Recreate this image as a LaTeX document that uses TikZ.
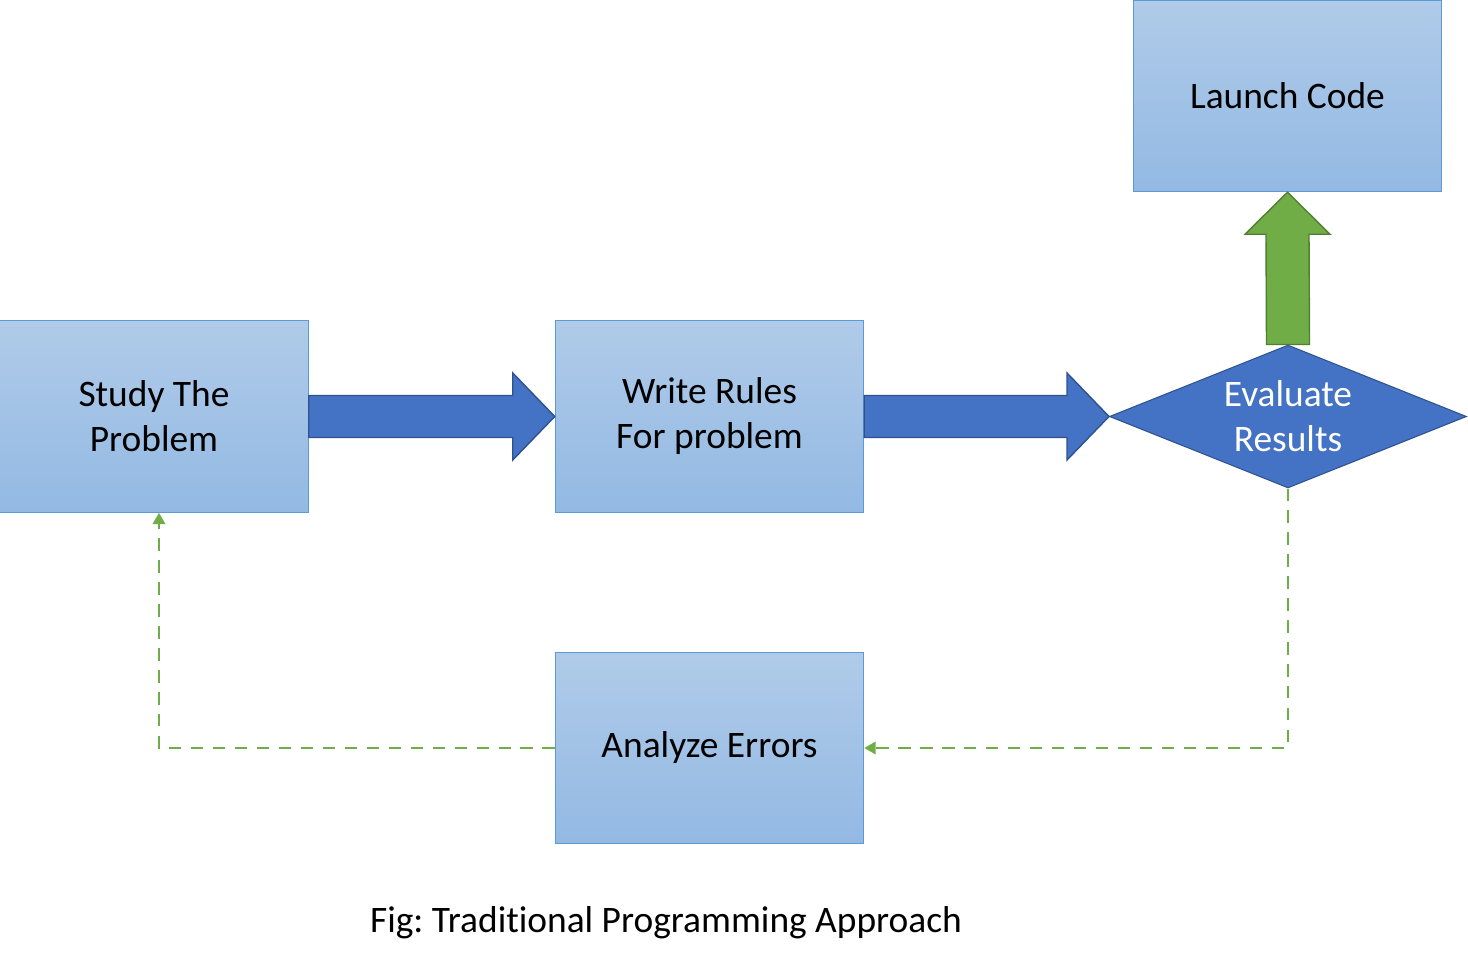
\documentclass[tikz,border=0pt]{standalone}
\usepackage{fontspec}
\setmainfont{Carlito}[Ligatures=NoCommon]
\usetikzlibrary{shapes.geometric,arrows.meta,calc,positioning}
\definecolor{boxtop}{RGB}{176,203,233}
\definecolor{boxbot}{RGB}{147,185,227}
\definecolor{boxline}{RGB}{91,155,213}
\definecolor{arrowblue}{RGB}{68,114,196}
\definecolor{arrowline}{RGB}{47,82,143}
\definecolor{arrowgreen}{RGB}{112,173,71}
\definecolor{greenline}{RGB}{80,126,50}
\frenchspacing
\begin{document}
\begin{tikzpicture}[x=0.02cm,y=-0.02cm,
    txt/.style={font=\fontsize{21.3}{25.6}\selectfont, align=center},
    stepbox/.style={txt, draw=boxline, line width=0.6pt, top color=boxtop, bottom color=boxbot, minimum width=6.17cm, minimum height=3.83cm, inner sep=0},
    decision/.style={txt, diamond, draw=arrowline, line width=0.6pt, fill=arrowblue, text=white, aspect=2.5, minimum width=7.14cm, minimum height=2.86cm, inner sep=0},
    bluearrow/.style={fill=arrowblue, draw=arrowline, line width=0.8pt, line join=miter},
    greenarrow/.style={fill=arrowgreen, draw=greenline, line width=0.8pt, line join=miter},
    loopline/.style={draw=arrowgreen, line width=1.6pt, dash pattern=on 7pt off 5.5pt, -{Triangle[length=6.5pt,width=7pt]}}]
    \useasboundingbox (0,0) rectangle (1468,966);

    % boxes and decision
    \node[stepbox] (study) at (154,416.5) {Study The\\Problem};
    \node[stepbox] (rules) at (709.5,416.5) {Write Rules\\For problem};
    \node[stepbox] (launch) at (1287.5,96) {Launch Code};
    \node[stepbox] (errors) at (709.5,748) {Analyze Errors};
    \node[decision] (eval) at (1288,416.5) {Evaluate\\Results};

    % block arrows
    \draw[bluearrow] ($(study.east)+(0,-21)$) -- ($(rules.west)+(-42,-21)$) -- ($(rules.west)+(-42,-43.5)$) -- (rules.west)
        -- ($(rules.west)+(-42,43.5)$) -- ($(rules.west)+(-42,21)$) -- ($(study.east)+(0,21)$) -- cycle;
    \draw[bluearrow] ($(rules.east)+(0,-21)$) -- ($(eval.west)+(-42,-21)$) -- ($(eval.west)+(-42,-43.5)$) -- (eval.west)
        -- ($(eval.west)+(-42,43.5)$) -- ($(eval.west)+(-42,21)$) -- ($(rules.east)+(0,21)$) -- cycle;
    \draw[greenarrow] ($(eval.north)+(-21.5,0)$) -- ($(launch.south)+(-21.5,42)$) -- ($(launch.south)+(-42.5,42)$) -- (launch.south)
        -- ($(launch.south)+(42.5,42)$) -- ($(launch.south)+(21.5,42)$) -- ($(eval.north)+(21.5,0)$) -- cycle;

    % feedback loop
    \draw[loopline] (eval.south) |- (errors.east);
    \draw[loopline] (errors.west) -| ($(study.south)+(5,0)$);

    % caption
    \node[txt, anchor=base] (caption) at (666,932) {Fig: Traditional Programming Approach};
\end{tikzpicture}
\end{document}
